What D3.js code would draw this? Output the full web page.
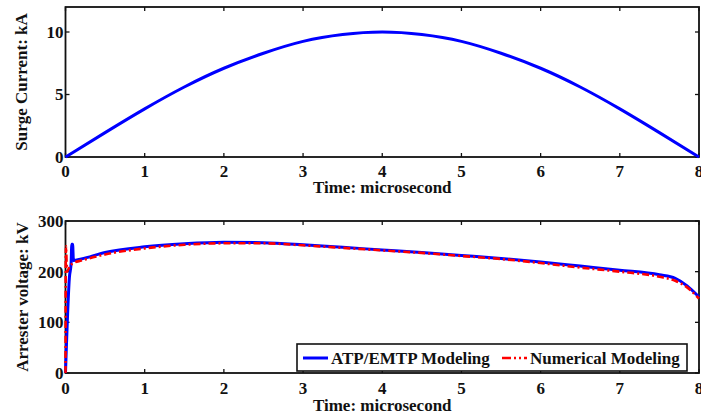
<!DOCTYPE html>
<html>
<head>
<meta charset="utf-8">
<script src="https://cdn.jsdelivr.net/npm/d3@7"></script>
<style>
  html, body { margin: 0; padding: 0; background: #fff; }
  svg { display: block; }
  text { font-family: "Liberation Serif", "Times New Roman", serif; font-weight: bold; fill: #111; }
</style>
</head>
<body>
<svg id="chart" width="701" height="415"></svg>
<script>
// Surge current injected into the arrester (kA) vs time (µs)
const currentTime  = [0, 0.5, 1, 1.5, 2, 2.5, 3, 3.5, 4, 4.5, 5, 5.5, 6, 6.5, 7, 7.5, 8];
const currentValue = [0, 1.95, 3.85, 5.6, 7.1, 8.3, 9.25, 9.8, 10, 9.8, 9.25, 8.3, 7.1, 5.6, 3.85, 1.95, 0];

// Arrester residual voltage (kV) — ATP/EMTP model
const atpTime  = [0, 0.05, 0.07, 0.08, 0.09, 0.1, 0.2, 0.5, 1, 1.5, 2, 2.5, 3, 3.5, 4, 4.5, 5, 5.5, 6, 6.5, 7, 7.5, 7.7, 7.85, 8];
const atpValue = [0, 190, 215, 254, 254, 222, 225, 238, 249, 255, 258, 257, 253, 248, 243, 238, 232, 226, 219, 211, 203, 194, 187, 172, 150];

// Arrester residual voltage (kV) — numerical model
const numTime  = [0, 0.005, 0.02, 0.05, 0.1, 0.2, 0.5, 1, 1.5, 2, 2.5, 3, 3.5, 4, 4.5, 5, 5.5, 6, 6.5, 7, 7.5, 7.7, 7.85, 8];
const numValue = [0, 250, 200, 210, 217, 222, 234, 246, 253, 256, 256, 252, 247, 242, 237, 231, 225, 217, 208, 200, 190, 182, 169, 147];

const xTicks = [0, 1, 2, 3, 4, 5, 6, 7, 8];
const currentTicks = [0, 5, 10];
const voltageTicks = [0, 100, 200, 300];

const legendLabels = ["ATP/EMTP Modeling", "Numerical Modeling"];
const xTitle = "Time: microsecond";
const currentTitle = "Surge Current: kA";
const voltageTitle = "Arrester voltage: kV";

const svg = d3.select("#chart");
const plotLeft = 65.5, plotRight = 699;
const x = d3.scaleLinear().domain([0, 8]).range([plotLeft, plotRight]);

const panels = [
  { top: 7, bottom: 157, domain: [0, 12], ticks: currentTicks, title: currentTitle, titleX: 27, tickDy: 20, titleDy: 36 },
  { top: 221, bottom: 373, domain: [0, 300], ticks: voltageTicks, title: voltageTitle, titleX: 28, tickDy: 21, titleDy: 38 }
];

const fontSize = 17;

panels.forEach(p => {
  p.y = d3.scaleLinear().domain(p.domain).range([p.bottom, p.top]);
  const g = svg.append("g");

  // inward ticks on all four sides
  const tickLen = 4;
  xTicks.forEach(t => {
    g.append("line").attr("x1", x(t)).attr("x2", x(t)).attr("y1", p.bottom).attr("y2", p.bottom - tickLen)
      .attr("stroke", "#111").attr("stroke-width", 1.3);
    g.append("line").attr("x1", x(t)).attr("x2", x(t)).attr("y1", p.top).attr("y2", p.top + tickLen)
      .attr("stroke", "#111").attr("stroke-width", 1.3);
    g.append("text").attr("x", x(t)).attr("y", p.bottom + p.tickDy).attr("text-anchor", "middle")
      .attr("font-size", fontSize).text(t);
  });
  p.ticks.forEach(v => {
    g.append("line").attr("x1", plotLeft).attr("x2", plotLeft + tickLen).attr("y1", p.y(v)).attr("y2", p.y(v))
      .attr("stroke", "#111").attr("stroke-width", 1.3);
    g.append("line").attr("x1", plotRight).attr("x2", plotRight - tickLen).attr("y1", p.y(v)).attr("y2", p.y(v))
      .attr("stroke", "#111").attr("stroke-width", 1.3);
    g.append("text").attr("x", plotLeft - 2).attr("y", p.y(v)).attr("dy", "0.35em").attr("text-anchor", "end")
      .attr("font-size", fontSize).text(v);
  });

  // box
  g.append("rect").attr("x", plotLeft).attr("y", p.top).attr("width", plotRight - plotLeft).attr("height", p.bottom - p.top)
    .attr("fill", "none").attr("stroke", "#111").attr("stroke-width", 1.8);

  // axis titles
  g.append("text").attr("x", x(4)).attr("y", p.bottom + p.titleDy).attr("text-anchor", "middle")
    .attr("font-size", fontSize).text(xTitle);
  g.append("text").attr("transform", `translate(${p.titleX},${(p.top + p.bottom) / 2}) rotate(-90)`)
    .attr("text-anchor", "middle").attr("font-size", fontSize).text(p.title);
});

const topPanel = panels[0], botPanel = panels[1];

const addClip = (id, p) => svg.append("clipPath").attr("id", id).append("rect")
  .attr("x", plotLeft - 2).attr("y", p.top).attr("width", plotRight - plotLeft + 4).attr("height", p.bottom - p.top + 2);
addClip("clipTop", topPanel);
addClip("clipBot", botPanel);

const lineTop = d3.line().x(d => x(d[0])).y(d => topPanel.y(d[1])).curve(d3.curveNatural);
svg.append("path").datum(d3.zip(currentTime, currentValue))
  .attr("d", lineTop).attr("fill", "none").attr("stroke", "#0000ff").attr("stroke-width", 3)
  .attr("clip-path", "url(#clipTop)");

const lineBot = d3.line().x(d => x(d[0])).y(d => botPanel.y(d[1])).curve(d3.curveMonotoneX);
svg.append("path").datum(d3.zip(atpTime, atpValue))
  .attr("d", lineBot).attr("fill", "none").attr("stroke", "#0000ff").attr("stroke-width", 3)
  .attr("stroke-linejoin", "round").attr("clip-path", "url(#clipBot)");
svg.append("path").datum(d3.zip(numTime, numValue))
  .attr("d", lineBot).attr("fill", "none").attr("stroke", "#ff0000").attr("stroke-width", 2.6)
  .attr("stroke-dasharray", "7,3,2,3").attr("clip-path", "url(#clipBot)");

// legend
const lg = svg.append("g");
lg.append("rect").attr("x", 297).attr("y", 344).attr("width", 390).attr("height", 27)
  .attr("fill", "#fff").attr("stroke", "#111").attr("stroke-width", 1.6);
const ly = 358;
lg.append("line").attr("x1", 303).attr("x2", 328).attr("y1", ly).attr("y2", ly)
  .attr("stroke", "#0000ff").attr("stroke-width", 3);
lg.append("text").attr("x", 331).attr("y", ly).attr("dy", "0.35em").attr("font-size", fontSize).text(legendLabels[0]);
lg.append("line").attr("x1", 502).attr("x2", 527).attr("y1", ly).attr("y2", ly)
  .attr("stroke", "#ff0000").attr("stroke-width", 2.6).attr("stroke-dasharray", "9,3,2,3,2,3");
lg.append("text").attr("x", 530).attr("y", ly).attr("dy", "0.35em").attr("font-size", fontSize).text(legendLabels[1]);
</script>
</body>
</html>
